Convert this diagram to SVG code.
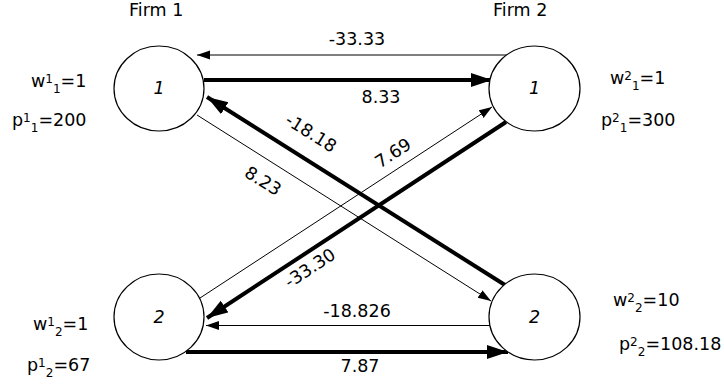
<svg xmlns="http://www.w3.org/2000/svg" width="724" height="385" viewBox="0 0 724 385">
<style>
text{font-family:"DejaVu Sans",Verdana,sans-serif;font-size:17.5px;fill:#000}
.node ellipse{fill:#fff;stroke:#000;stroke-width:1.2}
.node text{font-style:italic;text-anchor:middle}
.thin{stroke:#000;stroke-width:1;fill:none;marker-end:url(#ah)}
.thick{stroke:#000;stroke-width:4;fill:none;marker-end:url(#ahb)}
.thinnm{stroke:#000;stroke-width:1;fill:none}
.s{font-size:12px}
.lbl{text-anchor:middle}
</style>
<defs>
<marker id="ah" markerUnits="userSpaceOnUse" markerWidth="14" markerHeight="10" refX="13" refY="4.5" orient="auto"><path d="M0,0 L13,4.5 L0,9 Z" fill="#000"/></marker>
<marker id="ahb" markerUnits="userSpaceOnUse" markerWidth="22" markerHeight="15" refX="21" refY="7" orient="auto"><path d="M0,0 L21,7 L0,14 Z" fill="#000"/></marker>
</defs>
<text x="129" y="16">Firm 1</text>
<text x="493" y="16">Firm 2</text>
<g id="connectors">
<line class="thin" x1="507" y1="55" x2="197" y2="55"/>
<line class="thick" x1="204" y1="80" x2="492" y2="80"/>
<line class="thick" x1="505" y1="285" x2="207" y2="97"/>
<line class="thin" x1="197" y1="115" x2="491" y2="301"/>
<line class="thin" x1="200" y1="298" x2="492" y2="107"/>
<line class="thick" x1="506" y1="122" x2="207" y2="318"/>
<line class="thin" x1="490" y1="325.5" x2="206" y2="325.5"/>
<line class="thick" x1="186" y1="352" x2="508" y2="352"/>
<text class="lbl" x="357" y="45">-33.33</text>
<text class="lbl" x="381" y="103">8.33</text>
<text class="lbl" transform="translate(311,133) rotate(32)" x="0" y="6">-18.18</text>
<text class="lbl" transform="translate(263,181) rotate(32)" x="0" y="6">8.23</text>
<text class="lbl" transform="translate(393,153) rotate(-33)" x="0" y="6">7.69</text>
<text class="lbl" transform="translate(310,268) rotate(-33)" x="0" y="6">-33.30</text>
<text class="lbl" x="357" y="317">-18.826</text>
<text class="lbl" x="360" y="372">7.87</text>
</g>
<g id="f1n1" class="node"><ellipse cx="159" cy="88.5" rx="45" ry="42.5"/><text x="159" y="94">1</text></g>
<g id="f2n1" class="node"><ellipse cx="534.5" cy="88.5" rx="45.5" ry="42.5"/><text x="534.5" y="94">1</text></g>
<g id="f1n2" class="node"><ellipse cx="159" cy="317" rx="45" ry="43"/><text x="159" y="323">2</text></g>
<g id="f2n2" class="node"><ellipse cx="534.5" cy="317" rx="45.5" ry="43"/><text x="534.5" y="323">2</text></g>
<g id="labels">
<text x="31" y="87">w<tspan class="s" dy="-4">1</tspan><tspan class="s" dy="10">1</tspan><tspan dy="-6">=1</tspan></text>
<text x="12" y="126">p<tspan class="s" dy="-4">1</tspan><tspan class="s" dy="10">1</tspan><tspan dy="-6">=200</tspan></text>
<text x="33" y="330">w<tspan class="s" dy="-4">1</tspan><tspan class="s" dy="10">2</tspan><tspan dy="-6">=1</tspan></text>
<text x="27" y="371">p<tspan class="s" dy="-4">1</tspan><tspan class="s" dy="10">2</tspan><tspan dy="-6">=67</tspan></text>
<text x="610" y="84">w<tspan class="s" dy="-4">2</tspan><tspan class="s" dy="10">1</tspan><tspan dy="-6">=1</tspan></text>
<text x="601" y="126">p<tspan class="s" dy="-4">2</tspan><tspan class="s" dy="10">1</tspan><tspan dy="-6">=300</tspan></text>
<text x="613" y="306">w<tspan class="s" dy="-4">2</tspan><tspan class="s" dy="10">2</tspan><tspan dy="-6">=10</tspan></text>
<text x="619" y="350">p<tspan class="s" dy="-4">2</tspan><tspan class="s" dy="10">2</tspan><tspan dy="-6">=108.18</tspan></text>
</g>
</svg>
